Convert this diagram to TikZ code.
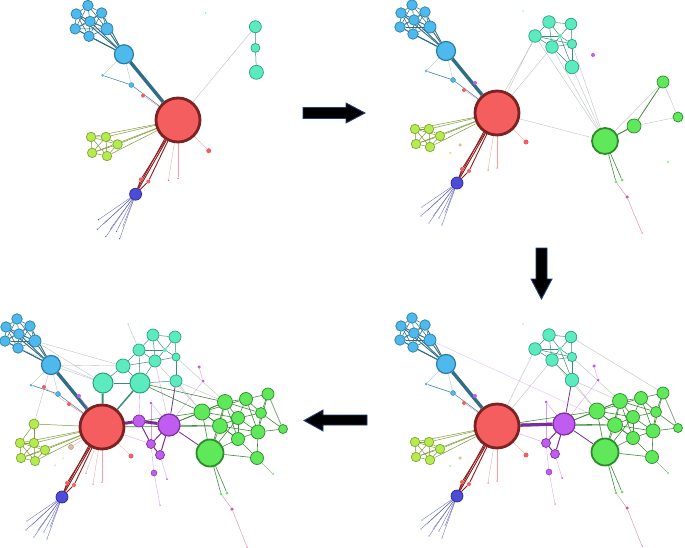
\documentclass[tikz,border=0pt]{standalone}
\pgfdeclarelayer{paper}
\pgfdeclarelayer{bg}
\pgfsetlayers{paper,bg,main}
\definecolor{redF}{HTML}{F45E5E}
\definecolor{redD}{HTML}{7D2222}
\definecolor{redE}{HTML}{8E1C1C}
\definecolor{blueF}{HTML}{4DB9EC}
\definecolor{blueD}{HTML}{2B7DA6}
\definecolor{blueE}{HTML}{2F6E86}
\definecolor{tealF}{HTML}{5CEBBF}
\definecolor{tealD}{HTML}{2DA27E}
\definecolor{tealE}{HTML}{3A8E76}
\definecolor{greenF}{HTML}{5EE85A}
\definecolor{greenD}{HTML}{2E8B2B}
\definecolor{greenE}{HTML}{3F8A38}
\definecolor{ylwF}{HTML}{B6EB4E}
\definecolor{ylwD}{HTML}{7FA632}
\definecolor{ylwE}{HTML}{7E9A3A}
\definecolor{purpF}{HTML}{C05CF0}
\definecolor{purpD}{HTML}{7E2E9E}
\definecolor{purpE}{HTML}{7A2C9A}
\definecolor{dbF}{HTML}{4C4CD9}
\definecolor{dbD}{HTML}{2A2A90}
\definecolor{dbE}{HTML}{5A5AB8}
\definecolor{pinkF}{HTML}{D8559A}
\definecolor{pinkE}{HTML}{D88AAE}
\definecolor{beigeF}{HTML}{E6B89C}
\definecolor{greyE}{HTML}{B8BEBC}
\definecolor{arrowD}{HTML}{23407A}
\tikzset{
  vx/.style={circle,inner sep=0pt,minimum size=#1,line width=0.7pt},
  dt/.style={circle,inner sep=0pt,minimum size=#1},
  cR/.style={fill=redF,draw=redD},
  cB/.style={fill=blueF,draw=blueD},
  cT/.style={fill=tealF,draw=tealD},
  cG/.style={fill=greenF,draw=greenD},
  cY/.style={fill=ylwF,draw=ylwD},
  cP/.style={fill=purpF,draw=purpD},
  cD/.style={fill=dbF,draw=dbD},
  eB/.style={draw=blueE,line width=0.55pt},
  eBh/.style={draw=blueE,line width=0.9pt},
  eY/.style={draw=ylwE,line width=0.5pt},
  eR/.style={draw=redE,line width=0.9pt},
  eRl/.style={draw=redF!60,line width=0.35pt},
  eD/.style={draw=dbE,line width=0.3pt},
  eT/.style={draw=tealE,line width=0.5pt},
  eG/.style={draw=greenE,line width=0.6pt},
  eP/.style={draw=purpE,line width=1pt},
  ePl/.style={draw=purpF!60,line width=0.35pt},
  eg/.style={draw=greyE,line width=0.35pt},
  bigarrow/.style={fill=black,draw=arrowD,line width=0.9pt,line join=miter}
}
\newcommand\basegraph{%
  \node[vx=44pt,cR,line width=2.8pt] (rh) at (0,0) {};
  \node[vx=19pt,cB,line width=1.2pt] (bh) at (-51,-62) {};
  \node[vx=10.5pt,cB] (b1) at (-85,-108) {};
  \node[vx=10.5pt,cB] (b2) at (-96,-100) {};
  \node[vx=10.5pt,cB] (b3) at (-72,-101) {};
  \node[vx=10.5pt,cB] (b4) at (-83,-93) {};
  \node[vx=10.5pt,cB] (b5) at (-97,-86) {};
  \node[vx=12pt,cB] (b6) at (-67,-86) {};
  \node[vx=10.5pt,cB] (b7) at (-84,-79) {};
  \node[dt=3pt,fill=blueF] (sb1) at (-71,-42) {};
  \node[vx=5pt,cB,line width=0.3pt] (sb2) at (-44,-33) {};
  \node[dt=4pt,fill=redF] (rs1) at (-33,-23) {};
  \node[vx=9.5pt,cY] (y1) at (-82,16) {};
  \node[vx=9.5pt,cY] (y2) at (-68,16) {};
  \node[vx=9.5pt,cY] (y3) at (-57,23) {};
  \node[vx=9.5pt,cY] (y4) at (-81,31) {};
  \node[vx=9.5pt,cY] (y5) at (-67,34) {};
  \node[dt=5pt,fill=redF] (rs2) at (29,29) {};
  \node[dt=4pt,fill=redF] (rs3) at (-35,56) {};
  \node[dt=4pt,fill=redF] (rs4) at (-28,58) {};
  \node[dt=1.5pt,fill=redF] (tr1) at (-9,57) {};
  \node[dt=1.5pt,fill=redF] (tr2) at (0,55) {};
  \node[vx=12pt,cD] (db) at (-40,70) {};
  \node[dt=1.4pt,fill=dbF] (d1) at (-75,94) {};
  \node[dt=1.4pt,fill=dbF] (d2) at (-76,103) {};
  \node[dt=1.4pt,fill=dbF] (d3) at (-68,110) {};
  \node[dt=1.4pt,fill=dbF] (d4) at (-58,105) {};
  \node[dt=1.4pt,fill=dbF] (d5) at (-55,112) {};
  \node[dt=0.8pt,fill=dbF] (d6) at (-70,98) {};
  \node[dt=0.8pt,fill=dbF] (d7) at (-64,103) {};
  \node[dt=0.8pt,fill=dbF] (d8) at (-52,100) {};
  \begin{pgfonlayer}{bg}
    \draw[draw=blueE,line width=3.4pt] (bh) -- (rh);
    \foreach \a/\b in {b1/b2,b1/b3,b1/b4,b2/b4,b3/b4,b2/b5,b4/b5,b4/b6,b3/b6,b5/b7,b4/b7,b6/b7,b1/b6,b2/b6,b5/b6,b3/b5,b2/b7,b3/b7,b1/b5}
      \draw[eB] (\a) -- (\b);
    \foreach \a in {b2,b3,b4,b5,b6,b7}
      \draw[eBh] (\a) -- (bh);
    \foreach \a/\b in {y1/y2,y1/y3,y1/y4,y2/y3,y2/y4,y2/y5,y3/y5,y4/y5,y1/y5,y3/y4}
      \draw[eY] (\a) -- (\b);
    \foreach \a in {y1,y2,y3,y4,y5}
      \draw[eY] (\a) -- (rh);
    \draw[eR] (rh) -- (db);
    \draw[eR] (rh.235) -- (db.70);
    \draw[eR] (rh) -- (rs3);
    \draw[eR] (rh) -- (rs4);
    \draw[eR] (rs3) -- (db);
    \draw[eR] (rs4) -- (db);
    \foreach \a in {tr1,tr2,rs2,rs1}
      \draw[eRl] (rh) -- (\a);
    \draw[draw=blueD,line width=0.5pt] (sb1) -- (sb2) -- (rh);
    \draw[eg] (bh) -- (sb2);
    \draw[eg] (bh) -- (sb1);
    \foreach \a in {d1,d2,d3,d4,d5,d6,d7,d8}
      \draw[eD] (db) -- (\a);
  \end{pgfonlayer}
}
\newcommand\tealgraph{%
  \node[vx=12.5pt,cT] (t1) at (52,-91) {};
  \node[vx=11.5pt,cT] (t2) at (74,-89) {};
  \node[vx=12.5pt,cT] (t3) at (38,-77) {};
  \node[dt=4pt,fill=tealF] (t4) at (63,-77) {};
  \node[vx=9.5pt,cT] (t5) at (75,-69) {};
  \node[vx=12.5pt,cT] (t6) at (55,-66) {};
  \node[vx=13.5pt,cT] (t7) at (75,-46) {};
  \node[dt=1.5pt,fill=tealF] (t0) at (26,-102) {};
  \begin{pgfonlayer}{bg}
    \foreach \a/\b in {t1/t2,t1/t3,t1/t6,t1/t4,t2/t5,t2/t4,t3/t6,t3/t4,t4/t5,t4/t6,t5/t6,t5/t7,t6/t7,t3/t5,t4/t7}
      \draw[eT] (\a) -- (\b);
  \end{pgfonlayer}
}
\newcommand\greengraph{%
  \node[vx=16pt,cG] (ga) at (100,-15) {};
  \node[vx=15pt,cG] (gb) at (123,-25) {};
  \node[vx=13pt,cG] (gc) at (144,-28) {};
  \node[vx=12pt,cG] (gd) at (166,-33) {};
  \node[vx=11pt,cG] (ge) at (159,-14) {};
  \node[vx=13pt,cG] (gf) at (136,-9) {};
  \node[vx=15pt,cG] (gg) at (118,-1) {};
  \node[vx=14pt,cG] (gm) at (156,5) {};
  \node[vx=9pt,cG] (gx) at (181,2) {};
  \node[vx=13pt,cG] (gj) at (136,12) {};
  \node[vx=13pt,cG] (gk) at (155,31) {};
  \node[vx=27pt,cG,line width=1.8pt] (gH) at (108,26) {};
  \node[dt=3pt,fill=greenF] (gs1) at (119,67) {};
  \node[dt=3pt,fill=greenF] (gs2) at (125,66) {};
  \node[dt=3.5pt,fill=pinkF] (pk) at (130,82) {};
  \node[dt=1.5pt,fill=pinkF] (gend) at (145,120) {};
  \node[dt=2pt,fill=greenF] (gt) at (171,47) {};
  \begin{pgfonlayer}{bg}
    \foreach \a/\b in {ga/gb,ga/gg,ga/gf,ga/gH,gb/gc,gb/gf,gb/gg,gc/gd,gc/ge,gc/gf,gd/ge,gd/gx,ge/gf,ge/gm,gf/gg,gf/gj,gf/gm,gg/gj,gg/gH,gm/gj,gm/gx,gm/gk,gj/gk,gj/gH,gH/gk,gb/ge,ga/gc,ga/gj,gb/gj,gc/gm,gd/gm,ge/gx,gg/gm,gH/gf,gb/gH}
      \draw[eG] (\a) -- (\b);
    \draw[eG] (gH) -- (gs1);
    \draw[eG] (gH) -- (gs2);
    \draw[draw=pinkE,line width=0.4pt] (gs1) -- (pk) -- (gend);
    \draw[eG,line width=0.3pt] (gk) -- (gt);
    \draw[eg] (gd) -- (gx);
  \end{pgfonlayer}
}
\newcommand\purplegraph{%
  \node[vx=22pt,cP,line width=1.2pt] (ph) at (67,-2) {};
  \node[vx=9pt,cP] (pm1) at (49,17) {};
  \node[vx=9pt,cP] (pm2) at (58,28) {};
  \node[vx=6pt,cP,line width=0.4pt] (pm3) at (52,46) {};
  \node[dt=3.5pt,fill=purpF] (pq1) at (97,-60) {};
  \node[dt=3pt,fill=purpF] (pq2) at (101,-46) {};
  \node[dt=3pt,fill=purpF] (pq3) at (49,-24) {};
  \node[dt=2pt,fill=purpF] (pq4) at (65,52) {};
  \node[dt=1.5pt,fill=pinkF] (pq5) at (58,78) {};
  \begin{pgfonlayer}{bg}
    \draw[eP] (ph) -- (pm1);
    \draw[eP] (pm1) -- (pm2);
    \draw[eP] (ph) -- (pm2);
    \draw[eP,line width=0.8pt] (ph) -- (gH);
    \draw[eP,line width=0.8pt] (ph) -- (t7);
    \draw[ePl] (pm1) -- (pm3);
    \draw[ePl] (pm2) -- (pq4);
    \draw[ePl] (pm3) -- (pq5);
    \draw[ePl] (pq1) -- (pq2);
    \draw[ePl] (pq3) -- (ph);
    \draw[ePl] (pq3) -- (pm1);
    \draw[ePl] (rh) -- (pm1);
    \draw[ePl] (pq2) -- (ph);
    \draw[eG] (ph) -- (ga);
    \draw[eG] (ph) -- (gg);
    \draw[eG] (ph) -- (gb);
    \draw[eG] (rh) -- (ga);
    \draw[eG] (rh) -- (gg);
    \draw[eg] (t7) -- (ga);
    \draw[eg] (t7) -- (gb);
  \end{pgfonlayer}
}
\begin{document}
\begin{tikzpicture}[x=1pt,y=-1pt]
\begin{pgfonlayer}{paper}
\fill[white] (0,0) rectangle (685,548);
\end{pgfonlayer}
\useasboundingbox (0,0) rectangle (685,548);

% ---------- panel 1 ----------
\begin{scope}[shift={(178,120)},scale=1.06]
  \basegraph
  \node[vx=12pt,cT] (u1) at (73,-88) {};
  \node[vx=9pt,cT] (u2) at (73,-68) {};
  \node[vx=14pt,cT] (u3) at (74,-45) {};
  \node[dt=1.5pt,fill=tealF] (u0) at (26,-101) {};
  \begin{pgfonlayer}{bg}
    \draw[eg] (rh) -- (u1);
    \draw[eT] (u1) -- (u2) -- (u3);
  \end{pgfonlayer}
\end{scope}

% ---------- panel 2 ----------
\begin{scope}[shift={(497,113)}]
  \basegraph
  \tealgraph
  \node[dt=4pt,fill=purpF] (ps1) at (-22,-30) {};
  \node[dt=3.5pt,fill=beigeF] (be1) at (-37,32) {};
  \node[dt=2pt,fill=ylwF] (be2) at (-47,40) {};
  \node[dt=4pt,fill=purpF] (pp) at (96,-58) {};
  \node[vx=12pt,cG] (g1) at (166,-31) {};
  \node[vx=10pt,cG] (g2) at (181,4) {};
  \node[vx=14pt,cG] (g3) at (137,13) {};
  \node[vx=26pt,cG,line width=1.8pt] (gh) at (108,28) {};
  \node[dt=3pt,fill=greenF] (gs1) at (119,69) {};
  \node[dt=3pt,fill=greenF] (gs2) at (125,67) {};
  \node[dt=3.5pt,fill=pinkF] (pk) at (130,84) {};
  \node[dt=1.5pt,fill=pinkF] (gend) at (145,120) {};
  \node[dt=2pt,fill=greenF] (gt) at (171,49) {};
  \begin{pgfonlayer}{bg}
    \draw[eg] (rh) -- (gh);
    \draw[eg] (rh) -- (t3);
    \draw[eg] (rh) -- (t6);
    \draw[eg] (rh.70) -- (t3.250);
    \draw[eg] (gh) -- (t3);
    \draw[eg] (gh) -- (t6);
    \draw[eg] (gh) -- (t7);
    \draw[eg] (gh) -- (t5);
    \draw[eG,line width=1pt] (gh) -- (g3);
    \draw[eG,line width=0.8pt] (g3) -- (g1);
    \draw[eg] (g1) -- (g2);
    \draw[eg] (g2) -- (g3);
    \draw[eg] (g1) -- (gh);
    \draw[eG] (gh) -- (gs1);
    \draw[eG] (gh) -- (gs2);
    \draw[draw=pinkE,line width=0.4pt] (gs1) -- (pk) -- (gend);
  \end{pgfonlayer}
\end{scope}

% ---------- panel 3 ----------
\begin{scope}[shift={(497,426)}]
  \basegraph
  \tealgraph
  \greengraph
  \purplegraph
  \node[dt=4pt,fill=purpF] (ps1) at (-22,-30) {};
  \node[dt=3.5pt,fill=beigeF] (be1) at (-37,32) {};
  \node[dt=2pt,fill=ylwF] (be2) at (-47,40) {};
  \begin{pgfonlayer}{bg}
    \draw[draw=purpE,line width=3pt] (rh) -- (ph);
    \draw[eP,line width=0.8pt] (rh.5) -- (ph.175);
    \draw[eg] (rh) -- (t3);
    \draw[eg] (rh) -- (t6);
    \draw[eg] (t5) -- (gb);
    \draw[eg] (t6) -- (ga);
    \draw[eg] (t2) -- (gd);
    \draw[draw=purpF!40,line width=0.35pt] (b6) -- (gg);
  \end{pgfonlayer}
\end{scope}

% ---------- panel 4 ----------
\begin{scope}[shift={(102,427)}]
  \basegraph
  \node[vx=20pt,cT,line width=1pt] (q1) at (1,-44) {};
  \node[vx=20pt,cT,line width=1pt] (q2) at (38,-44) {};
  \node[vx=14pt,cT] (q3) at (21,-61) {};
  \node[vx=12pt,cT] (q4) at (51,-92) {};
  \node[vx=12pt,cT] (q5) at (73,-90) {};
  \node[vx=12pt,cT] (q6) at (37,-77) {};
  \node[dt=4pt,fill=tealF] (q7) at (63,-77) {};
  \node[vx=12pt,cT] (q8) at (53,-66) {};
  \node[vx=8pt,cT] (q9) at (74,-70) {};
  \node[vx=12pt,cT] (t7) at (74,-46) {};
  \node[dt=1.5pt,fill=tealF] (q0) at (26,-103) {};
  \greengraph
  \purplegraph
  \node[vx=12pt,cP] (pm0) at (37,-6) {};
  \node[vx=10pt,cY] (y0) at (-68,-3) {};
  \node[dt=4pt,fill=redF] (rs5) at (-58,-40) {};
  \node[dt=4pt,fill=purpF] (ps1) at (-23,-31) {};
  \node[vx=5pt,fill=beigeF,draw=beigeF!70!black,line width=0.3pt] (be1) at (-31,20) {};
  \node[dt=1.5pt,fill=ylwF] (be2) at (-39,31) {};
  \node[dt=1.5pt,fill=beigeF] (be3) at (-47,38) {};
  \node[dt=1.5pt,fill=redF] (tr3) at (-16,46) {};
  \begin{pgfonlayer}{bg}
    \draw[draw=tealE,line width=2pt] (rh) -- (q1);
    \draw[draw=tealE,line width=1.5pt] (rh) -- (q2);
    \foreach \a/\b in {q1/q3,q1/q2,q2/q3,q3/q6,q3/q8,q6/q4,q4/q5,q4/q7,q5/q9,q6/q8,q8/q9,q8/q2,q9/t7,q2/t7,q5/q7,q6/q7,q8/q7,q2/q6,q4/q8,q7/q9}
      \draw[eT] (\a) -- (\b);
    \draw[eg] (q0) -- (q6);
    \draw[eg] (bh) -- (q1);
    \draw[eg] (bh) -- (q3);
    \draw[eg] (b6) -- (q1);
    \draw[eg] (b6) -- (q3);
    \draw[eg] (b7) -- (q1);
    \draw[draw=purpE,line width=3pt] (rh) -- (pm0);
    \draw[draw=purpE,line width=3pt] (pm0) -- (ph);
    \draw[eP] (pm0) -- (pm1);
    \draw[ePl] (q2) -- (pm0);
    \draw[ePl] (q8) -- (ph);
    \draw[eG] (q2) -- (ga);
    \draw[eG] (q2) -- (gb);
    \draw[eg] (q9) -- (gb);
    \draw[eg] (q8) -- (ga);
    \draw[eY] (y0) -- (rh);
    \draw[eY] (y0) -- (y1);
    \draw[eY] (y0) -- (y2);
    \draw[eg] (y0) -- (bh);
    \draw[eRl] (rs5) -- (rh);
    \draw[eRl] (rh) -- (tr3);
    \draw[eRl] (rh) -- (be1);
    \draw[ePl] (ps1) -- (rh);
  \end{pgfonlayer}
\end{scope}

% ---------- arrows between panels ----------
\draw[bigarrow] (303,107.5) -- (346,107.5) -- (346,103) -- (365,113) -- (346,123) -- (346,118.5) -- (303,118.5) -- cycle;
\draw[bigarrow] (536,248) -- (547,248) -- (547,279) -- (552,279) -- (541.5,299) -- (531,279) -- (536,279) -- cycle;
\draw[bigarrow] (367,415) -- (323,415) -- (323,410) -- (304,420.5) -- (323,431) -- (323,425) -- (367,425) -- cycle;
\end{tikzpicture}
\end{document}
